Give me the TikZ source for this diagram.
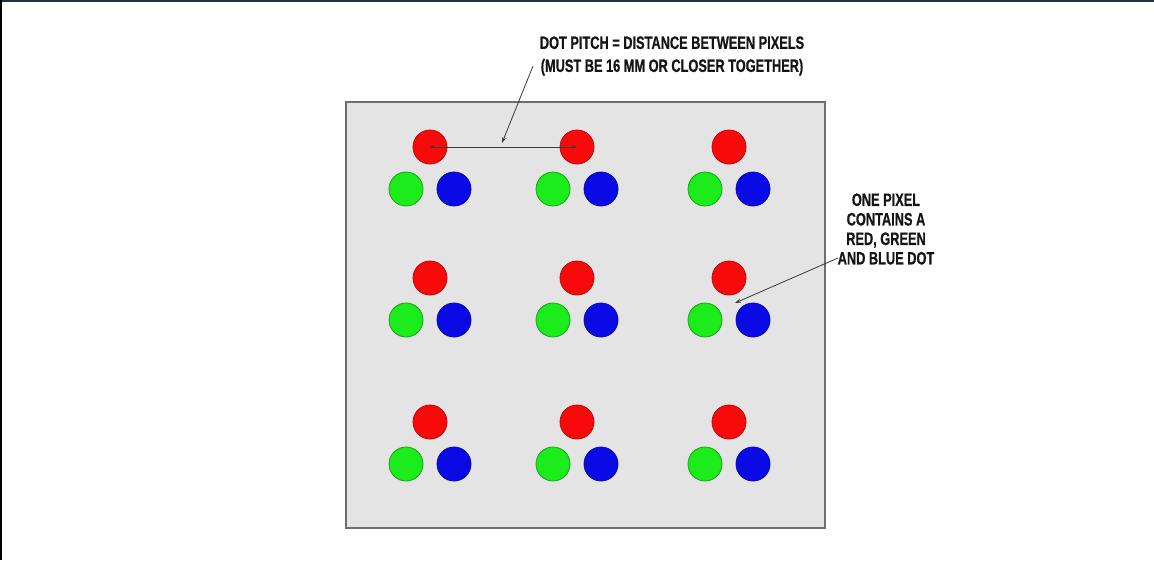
\documentclass[tikz,border=0pt]{standalone}
\usepackage{fontspec}
\newfontfamily\lab[FakeStretch=0.71,FakeBold=0.6]{Liberation Sans}
\usetikzlibrary{arrows.meta}
\definecolor{framecol}{HTML}{22313F}
\definecolor{panelfill}{HTML}{E4E4E4}
\definecolor{panelline}{HTML}{6E6E6E}
\definecolor{dotred}{HTML}{F80A0A}
\definecolor{dotgreen}{HTML}{1CEB1C}
\definecolor{dotblue}{HTML}{0A0AE6}
\definecolor{labtext}{HTML}{151515}
\definecolor{leader}{HTML}{3A3A3A}
\tikzset{
  dotbase/.style={circle, inner sep=0pt, minimum size=34pt, line width=0.8pt},
  reddot/.style={dotbase, fill=dotred, draw=dotred!75!black},
  greendot/.style={dotbase, fill=dotgreen, draw=dotgreen!70!black},
  bluedot/.style={dotbase, fill=dotblue, draw=dotblue!70!black},
  labelnode/.style={font=\lab\bfseries\fontsize{18}{19.5}\selectfont, text=labtext, align=center, inner sep=0pt},
  pitchlabel/.style={labelnode, font=\lab\bfseries\fontsize{18}{23}\selectfont},
  leaderline/.style={draw=leader, line width=0.8pt, -{Stealth[length=6pt,width=4pt]}},
}
\begin{document}
\begin{tikzpicture}[x=1pt,y=-1pt]
\useasboundingbox (0,0) rectangle (1154,560);
\fill[white] (0,0) rectangle (1154,560);
% outer frame edges
\draw[framecol, line width=2pt] (0,1) -- (1154,1);
\draw[black, line width=2pt] (1,0) -- (1,560);
% panel
\draw[fill=panelfill, draw=panelline, line width=1.5pt] (346,102) rectangle (825,528);
% pixels
\foreach \c/\x in {1/430,2/577,3/729}{
  \foreach \r/\y in {1/147,2/278,3/422}{
    \node[reddot] (r-\r-\c) at (\x,\y) {};
    \node[greendot] (g-\r-\c) at (\x-24,\y+42) {};
    \node[bluedot] (b-\r-\c) at (\x+24,\y+42) {};
  }
}
% dot pitch
\draw[draw=leader, line width=0.8pt, {Stealth[length=5pt,width=3.5pt]}-{Stealth[length=5pt,width=3.5pt]}] (r-1-1.center) -- (r-1-2.center);
\coordinate (pitchmid) at (502,143);
\node[pitchlabel] (pitchtext) at (672,56) {DOT PITCH = DISTANCE BETWEEN PIXELS\\(MUST BE 16 MM OR CLOSER TOGETHER)};
\coordinate (pitchstart) at (533,66);
\draw[leaderline] (pitchstart) -- (pitchmid);
% pixel label
\node[labelnode] (pixeltext) at (886,229) {ONE PIXEL\\CONTAINS A\\RED, GREEN\\AND BLUE DOT};
\coordinate (pixelstart) at (838,258);
\coordinate (pixelend) at (735,303);
\draw[leaderline] (pixelstart) -- (pixelend);
\end{tikzpicture}
\end{document}
